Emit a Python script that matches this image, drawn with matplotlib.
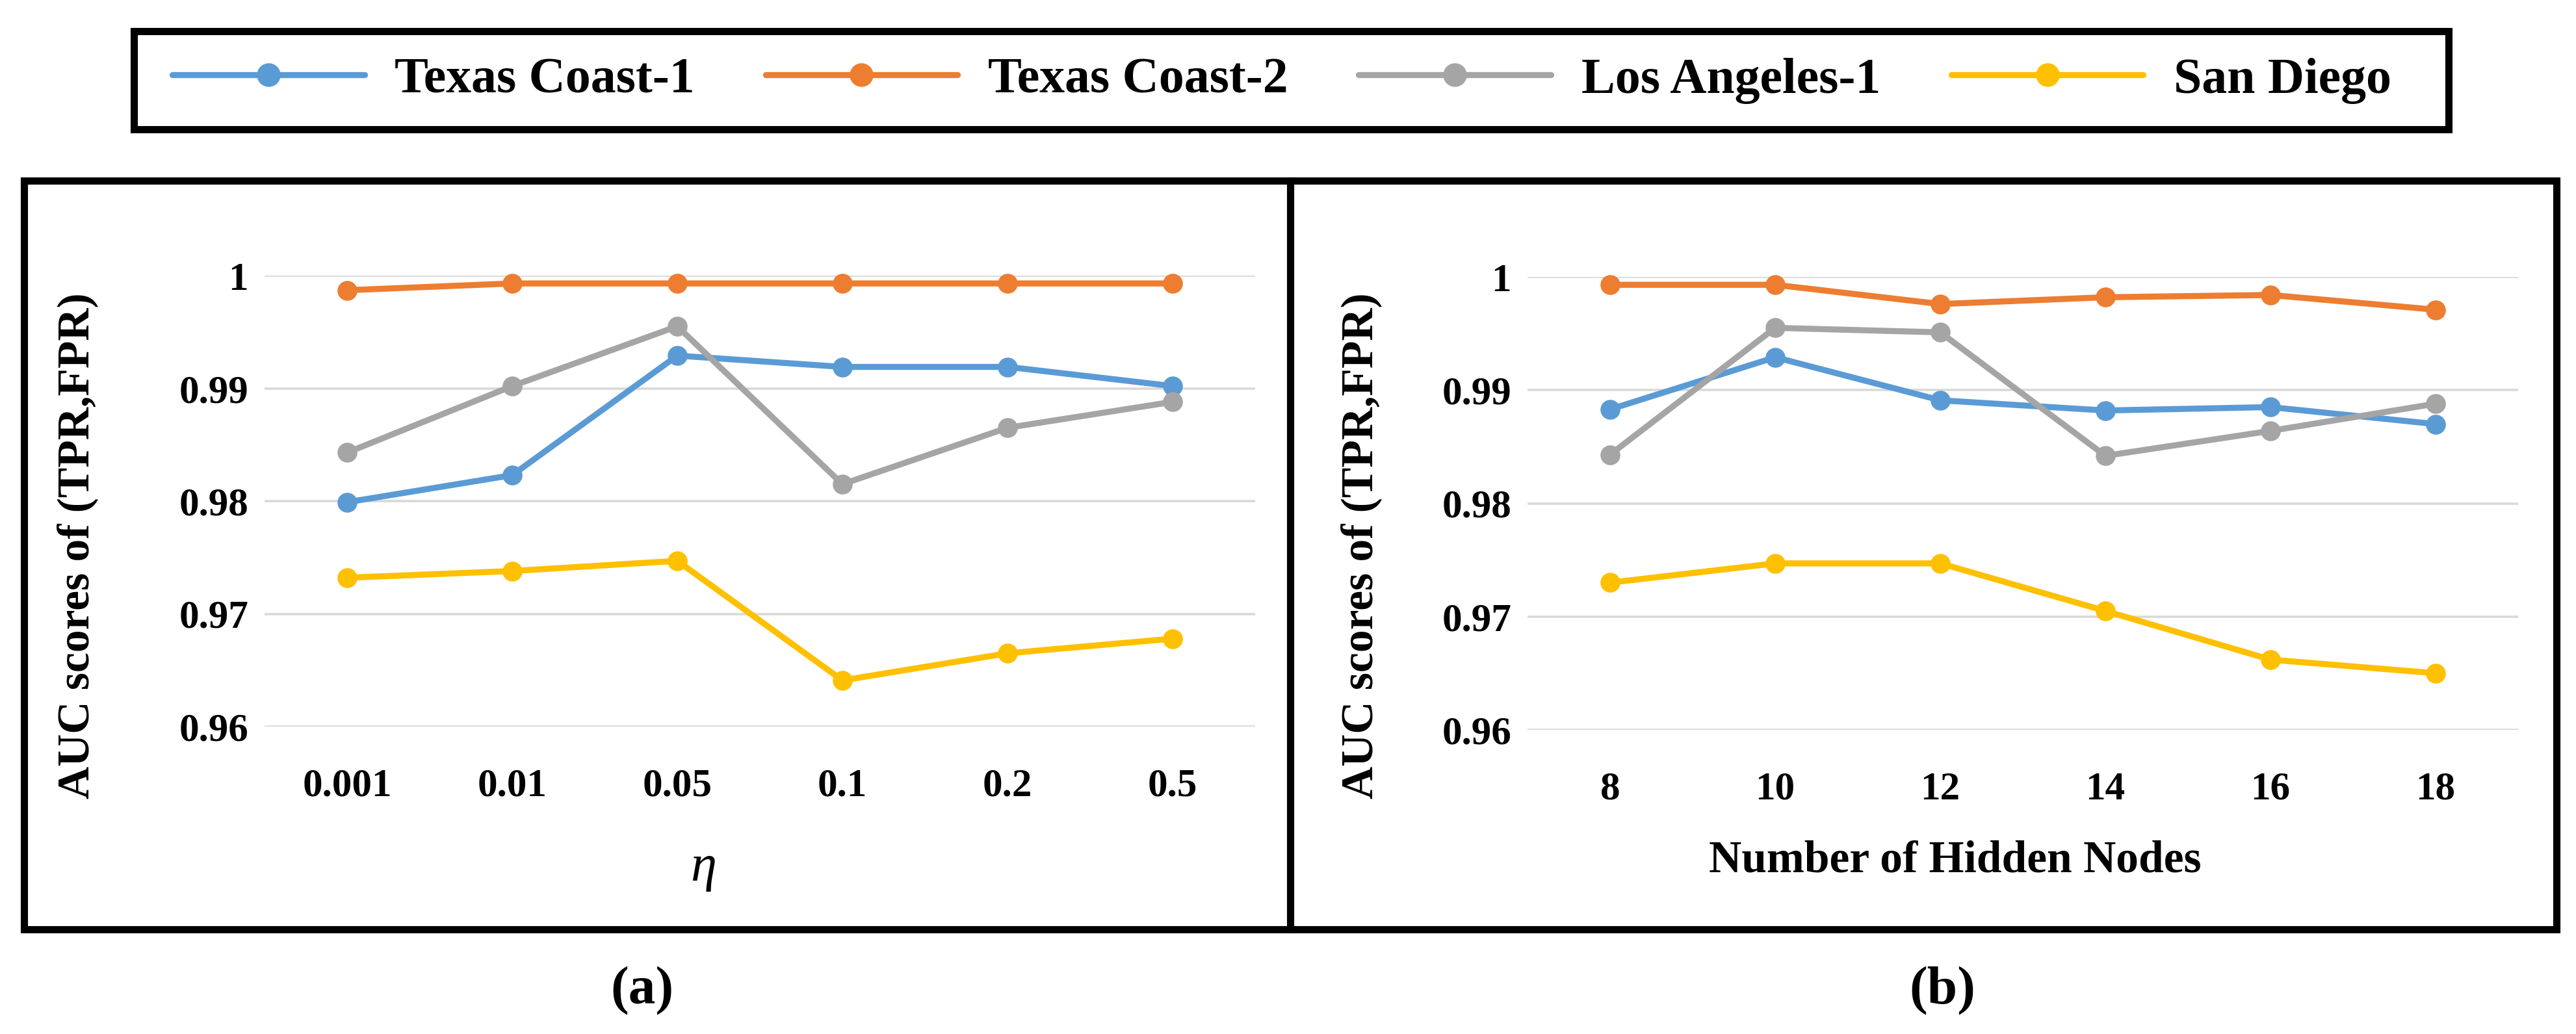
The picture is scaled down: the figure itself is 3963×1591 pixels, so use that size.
import numpy as np
import matplotlib
matplotlib.use("Agg")
import matplotlib.pyplot as plt
from matplotlib.patches import Rectangle
from matplotlib.lines import Line2D

# data
series_names = ["Texas Coast-1", "Texas Coast-2", "Los Angeles-1", "San Diego"]
series_colors = ["#5B9BD5", "#ED7D31", "#A5A5A5", "#FFC000"]

eta_labels = ["0.001", "0.01", "0.05", "0.1", "0.2", "0.5"]
eta_texas1 = [0.9799, 0.9823, 0.9929, 0.9919, 0.9919, 0.9902]
eta_texas2 = [0.9987, 0.9993, 0.9993, 0.9993, 0.9993, 0.9993]
eta_la1 = [0.9843, 0.9902, 0.9955, 0.9815, 0.9865, 0.9888]
eta_sandiego = [0.9732, 0.9738, 0.9747, 0.9641, 0.9665, 0.9678]

nodes_labels = ["8", "10", "12", "14", "16", "18"]
nodes_texas1 = [0.9883, 0.9929, 0.9891, 0.9882, 0.9885, 0.9870]
nodes_texas2 = [0.9993, 0.9993, 0.9976, 0.9982, 0.9984, 0.9971]
nodes_la1 = [0.9843, 0.9955, 0.9951, 0.9842, 0.9864, 0.9888]
nodes_sandiego = [0.9730, 0.9747, 0.9747, 0.9705, 0.9662, 0.9650]

yticks = [0.96, 0.97, 0.98, 0.99, 1.0]
ytick_labels = ["0.96", "0.97", "0.98", "0.99", "1"]

W, H = 3963, 1591
plt.rcParams['font.family'] = ['Liberation Serif', 'DejaVu Serif']
plt.rcParams['font.weight'] = 'bold'

fig = plt.figure(figsize=(W / 100, H / 100), dpi=100)


def fx(x):
    return x / W


def fy(y):
    return 1 - y / H


def draw_panel(ax, labels, data):
    xs = np.arange(len(labels))
    for vals, name, col in zip(data, series_names, series_colors):
        ax.plot(xs, vals, color=col, lw=6.7, marker='o', markersize=21,
                label=name, clip_on=False, solid_capstyle='round')
    ax.set_xlim(-0.5, len(labels) - 0.5)
    ax.set_ylim(0.96, 1.0)
    ax.set_yticks(yticks)
    ax.set_yticklabels(ytick_labels)
    ax.set_xticks(xs)
    ax.set_xticklabels(labels)
    ax.grid(axis='y', color='#D9D9D9', lw=2.6)
    ax.set_axisbelow(True)
    for s in ax.spines.values():
        s.set_visible(False)
    ax.tick_params(axis='y', length=0, pad=18, labelsize=44)
    ax.tick_params(axis='x', length=0, pad=46, labelsize=44)


ax1 = fig.add_axes([fx(407), fy(1118), 1524 / W, (1118 - 424) / H])
draw_panel(ax1, eta_labels, [eta_texas1, eta_texas2, eta_la1, eta_sandiego])
ax2 = fig.add_axes([fx(2350), fy(1123), 1524 / W, (1123 - 426) / H])
draw_panel(ax2, nodes_labels, [nodes_texas1, nodes_texas2, nodes_la1, nodes_sandiego])

ylab = "AUC scores of (TPR,FPR)"
fig.text(fx(119), fy(840), ylab, rotation=90, ha='center', va='center', fontsize=50, fontweight='bold')
fig.text(fx(2094), fy(840), ylab, rotation=90, ha='center', va='center', fontsize=50, fontweight='bold')

fig.text(fx(1082), fy(1335), "η", ha='center', va='center', fontsize=58,
         fontstyle='italic', fontweight='normal')
fig.text(fx(3008), fy(1325), "Number of Hidden Nodes", ha='center', va='center', fontsize=50, fontweight='bold')

fig.text(fx(988), fy(1525), "(a)", ha='center', va='center', fontsize=60, fontweight='bold')
fig.text(fx(2988), fy(1525), "(b)", ha='center', va='center', fontsize=60, fontweight='bold')

# frames
fig.add_artist(Rectangle((fx(206), fy(199)), (3767 - 206) / W, (199 - 48) / H,
                         transform=fig.transFigure, fill=False, lw=8, ec='black'))
fig.add_artist(Rectangle((fx(37), fy(1430)), (3933 - 37) / W, (1430 - 278) / H,
                         transform=fig.transFigure, fill=False, lw=8, ec='black'))
fig.add_artist(Line2D([fx(1985), fx(1985)], [fy(278), fy(1430)],
                      transform=fig.transFigure, lw=8, color='black'))

handles, labels = ax1.get_legend_handles_labels()
fig.legend(handles, labels, loc='center', bbox_to_anchor=(fx(1972), fy(124)),
           ncol=4, frameon=False, fontsize=56, handlelength=3.8, handletextpad=0.6,
           columnspacing=1.4, markerscale=1.2)

fig.savefig("out.png", dpi=100)
